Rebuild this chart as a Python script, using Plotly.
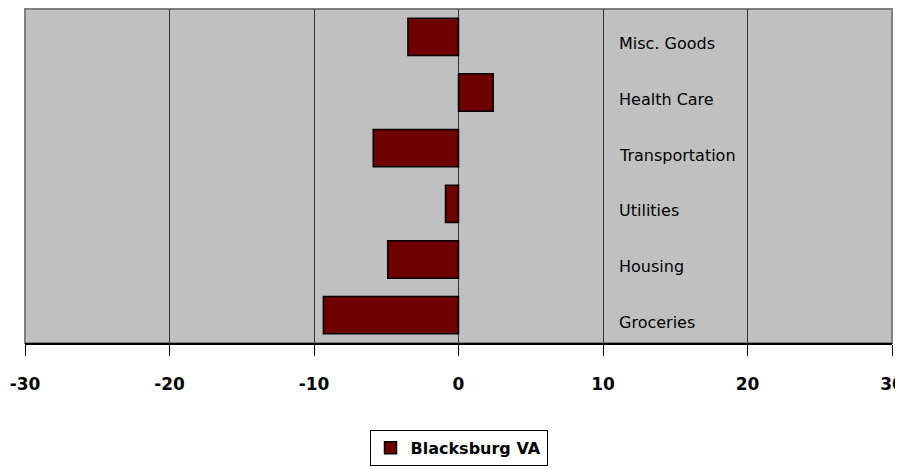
import plotly.graph_objects as go

categories = ["Groceries", "Housing", "Utilities", "Transportation", "Health Care", "Misc. Goods"]
values = [-9.35, -4.9, -0.9, -5.9, 2.4, -3.5]
series_name = "Blacksburg VA"
x_ticks = [-30, -20, -10, 0, 10, 20, 30]
label_x = 11

fig = go.Figure()
fig.add_trace(go.Bar(
    y=categories, x=values, orientation="h", name=series_name,
    marker=dict(color="#6e0000", line=dict(color="#000000", width=1.5)),
    width=0.67, showlegend=True,
))

for c in categories:
    fig.add_annotation(x=label_x, y=c, text=c, showarrow=False, xanchor="left",
                       yshift=-7, font=dict(family="DejaVu Sans", size=16, color="#000000"))

fig.update_layout(
    width=903, height=469,
    margin=dict(l=17, r=19, t=1, b=134, autoexpand=False),
    paper_bgcolor="#ffffff", plot_bgcolor="#c0c0c0",
    bargap=0.33,
    xaxis=dict(range=[-30, 30], tickvals=x_ticks, ticktext=[str(t) for t in x_ticks],
               showgrid=True, gridcolor="#333333", gridwidth=1, zeroline=False,
               showline=True, linecolor="#000000", linewidth=2,
               ticks="outside", ticklen=11, tickcolor="#000000", tickwidth=1,
               ticklabelstandoff=14, automargin=False, ticklabeloverflow="allow",
               tickfont=dict(family="DejaVu Sans", size=17, color="#000000", weight="bold"),
               mirror=False),
    yaxis=dict(showticklabels=False, showgrid=False, zeroline=False, automargin=False,
               showline=False, categoryorder="array", categoryarray=categories),
    showlegend=True,
    legend=dict(orientation="h", x=0.5, xanchor="center", y=-0.26, yanchor="top",
                bgcolor="#ffffff", bordercolor="#000000", borderwidth=1,
                font=dict(family="DejaVu Sans", size=16, color="#000000", weight="bold")),
    shapes=[dict(type="rect", xref="paper", yref="paper", x0=0, x1=1, y0=0, y1=1,
                 line=dict(color="#808080", width=2), fillcolor="rgba(0,0,0,0)", layer="below")],
)

fig.write_html("out.html")
